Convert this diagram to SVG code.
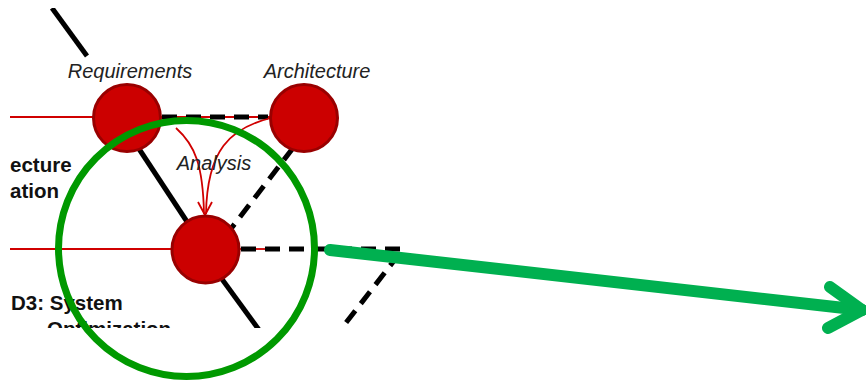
<svg xmlns="http://www.w3.org/2000/svg" width="866" height="382" viewBox="0 0 866 382">
<style>
.solid{stroke:#000;stroke-width:5;fill:none}
.dash{stroke:#000;stroke-width:5;fill:none;stroke-dasharray:15 9}
.red{stroke:#d00000;stroke-width:1.8;fill:none}
.node{fill:#cc0000;stroke:#990000;stroke-width:3}
.lbl{font-family:"Liberation Sans",Arial,sans-serif;font-style:italic;font-size:20px;fill:#222;text-anchor:middle}
.bold{font-family:"Liberation Sans",Arial,sans-serif;font-weight:bold;font-size:20.5px;fill:#111}
</style>
<defs>
<clipPath id="clip"><rect x="9" y="8" width="421" height="320"/></clipPath>
</defs>
<rect width="866" height="382" fill="#fff"/>
<g clip-path="url(#clip)">
<g id="connectors">
<line class="solid" x1="52" y1="8" x2="87" y2="56"/>
<line class="solid" x1="120" y1="120" x2="205" y2="249"/>
<line class="solid" x1="200" y1="249" x2="262" y2="334"/>
<line class="red" x1="10" y1="117" x2="95" y2="117"/>
<line class="red" x1="10" y1="249" x2="172" y2="249"/>
<line class="red" x1="160" y1="117" x2="272" y2="117"/>
<line class="dash" x1="162" y1="117" x2="268" y2="117"/>
<line class="dash" x1="293" y1="148" x2="230" y2="230"/>
<line class="red" x1="238" y1="249" x2="266" y2="249"/>
<polyline class="dash" points="241,249 403,249 335,337"/>
<path class="red" d="M176,128 C195,145 203,165 204,214"/>
<path class="red" d="M271,118 C230,128 207,150 206,214"/>
<polyline class="red" points="198,202 205,215 212,202"/>
</g>
<g id="node-requirements"><circle class="node" cx="127" cy="118" r="33.5"/><text class="lbl" x="130" y="78">Requirements</text></g>
<g id="node-architecture"><circle class="node" cx="304" cy="118" r="33.5"/><text class="lbl" x="317" y="78">Architecture</text></g>
<g id="node-analysis"><circle class="node" cx="205.5" cy="249.5" r="33.5"/><text class="lbl" x="214" y="170">Analysis</text></g>
<g id="labels">
<text class="bold" x="10" y="172">ecture</text>
<text class="bold" x="10" y="198">ation</text>
<text class="bold" x="11" y="310">D3: System</text>
<text class="bold" x="47" y="336">Optimization</text>
</g>
</g>
<g id="highlight">
<circle cx="186.5" cy="248.5" r="128" fill="none" stroke="#009900" stroke-width="7"/>
<g stroke="#00b050" stroke-width="12" stroke-linecap="round" stroke-linejoin="round" fill="none">
<line x1="330" y1="250" x2="862" y2="310"/>
<polyline points="830,287 862,310 828,328"/>
</g>
</g>
</svg>
